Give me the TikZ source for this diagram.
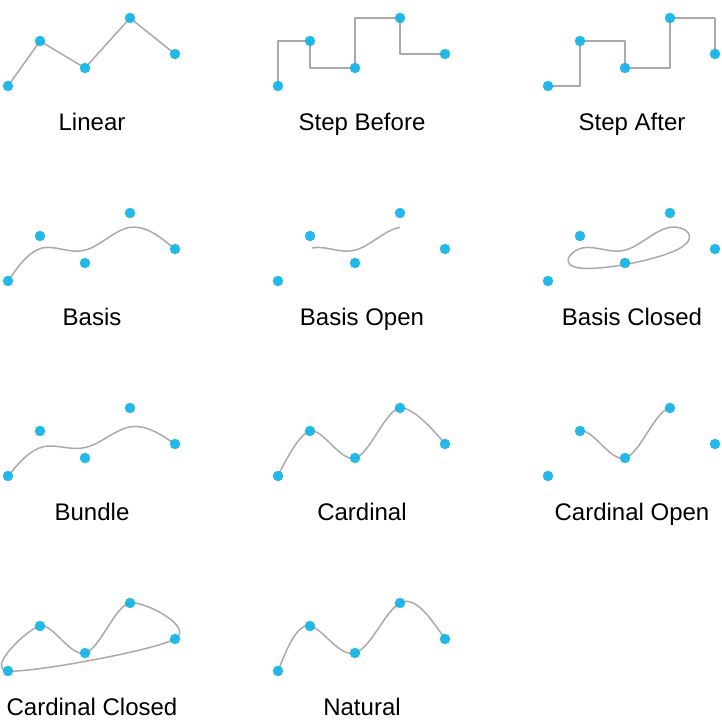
\documentclass[tikz,border=0pt]{standalone}
\usepackage{fontspec}
\setmainfont{Liberation Sans}
\definecolor{dotc}{HTML}{12B4E8}
\definecolor{linec}{HTML}{AAAAAA}
\tikzset{
  curve/.style={draw=linec, line width=1.5pt, line join=round},
  dotn/.style={circle, fill=dotc, fill opacity=0.92, inner sep=0pt, minimum size=10.5pt},
  lbl/.style={anchor=base, font=\fontsize{24}{28}\selectfont, text=black}
}
\newcommand\defpts[1]{\foreach \n/\px/\py in {a/8/86,b/40/41,c/85/68,d/130/18,e/175/54}{\coordinate (#1\n) at (\px,\py);}}
\newcommand\drawpts[1]{\foreach \n in {a,b,c,d,e}{\node[dotn] (#1dot\n) at (#1\n) {};}}
\begin{document}
\begin{tikzpicture}[x=1pt,y=-1pt]
\useasboundingbox[fill=white] (0,0) rectangle (721,728);

% Row 1
\begin{scope}[shift={(0,0)}]
  \defpts{lin}
  \draw[curve] (lina) -- (linb) -- (linc) -- (lind) -- (line);
  \drawpts{lin}
  \node[lbl] (linlbl) at (92,130) {Linear};
\end{scope}
\begin{scope}[shift={(270,0)}]
  \defpts{sb}
  \draw[curve] (sba) |- (sbb) |- (sbc) |- (sbd) |- (sbe);
  \drawpts{sb}
  \node[lbl] (sblbl) at (92,130) {Step Before};
\end{scope}
\begin{scope}[shift={(540,0)}]
  \defpts{sa}
  \draw[curve] (saa) -| (sab) -| (sac) -| (sad) -| (sae);
  \drawpts{sa}
  \node[lbl] (salbl) at (92,130) {Step After};
\end{scope}

% Row 2
\begin{scope}[shift={(0,195)}]
  \defpts{ba}
  \draw[curve] (baa) -- (13.333,78.5) .. controls (18.667,71) and (29.333,56) .. (42.167,53)
    .. controls (55,50) and (70,59) .. (85,55.167)
    .. controls (100,51.333) and (115,34.667) .. (130,32.333)
    .. controls (145,30) and (160,42) .. (167.5,48) -- (bae);
  \drawpts{ba}
  \node[lbl] (balbl) at (92,130) {Basis};
\end{scope}
\begin{scope}[shift={(270,195)}]
  \defpts{bo}
  \draw[curve] (42.167,53) .. controls (55,50) and (70,59) .. (85,55.167)
    .. controls (100,51.333) and (115,34.667) .. (130,32.333);
  \drawpts{bo}
  \node[lbl] (bolbl) at (92,130) {Basis Open};
\end{scope}
\begin{scope}[shift={(540,195)}]
  \defpts{bc}
  \draw[curve] (42.167,53) .. controls (55,50) and (70,59) .. (85,55.167)
    .. controls (100,51.333) and (115,34.667) .. (130,32.333)
    .. controls (145,30) and (160,42) .. (139.667,53.333)
    .. controls (119.333,64.667) and (63.667,75.333) .. (41.167,73.167)
    .. controls (18.667,71) and (29.333,56) .. cycle;
  \drawpts{bc}
  \node[lbl] (bclbl) at (92,130) {Basis Closed};
\end{scope}

% Row 3
\begin{scope}[shift={(0,390)}]
  \defpts{bu}
  \draw[curve] (bua) -- (13.577,79.425) .. controls (19.154,72.85) and (30.308,59.7) .. (43.304,56.75)
    .. controls (56.3,53.8) and (71.138,61.05) .. (85.975,57.392)
    .. controls (100.8125,53.733) and (115.65,39.167) .. (130.4875,36.783)
    .. controls (145.325,34.4) and (160.1625,44.2) .. (167.581,49.1) -- (bue);
  \drawpts{bu}
  \node[lbl] (bulbl) at (92,130) {Bundle};
\end{scope}
\begin{scope}[shift={(270,390)}]
  \defpts{ca}
  \draw[curve] (caa) .. controls (8,86) and (27.167,44) .. (cab)
    .. controls (52.833,38) and (70,71.833) .. (cac)
    .. controls (100,64.167) and (115,20.333) .. (cad)
    .. controls (145,15.667) and (175,54) .. (cae);
  \drawpts{ca}
  \node[lbl] (calbl) at (92,130) {Cardinal};
\end{scope}
\begin{scope}[shift={(540,390)}]
  \defpts{co}
  \draw[curve] (cob) .. controls (52.833,38) and (70,71.833) .. (coc)
    .. controls (100,64.167) and (115,20.333) .. (cod);
  \drawpts{co}
  \node[lbl] (colbl) at (92,130) {Cardinal Open};
\end{scope}

% Row 4
\begin{scope}[shift={(0,585)}]
  \defpts{cc}
  \draw[curve] (ccb) .. controls (52.833,38) and (70,71.833) .. (ccc)
    .. controls (100,64.167) and (115,20.333) .. (ccd)
    .. controls (145,15.667) and (195.333,42.667) .. (cce)
    .. controls (154.667,65.333) and (30.5,88.167) .. (cca)
    .. controls (-14.5,83.833) and (27.167,44) .. cycle;
  \drawpts{cc}
  \node[lbl] (cclbl) at (92,130) {Cardinal Closed};
\end{scope}
\begin{scope}[shift={(270,585)}]
  \defpts{na}
  \draw[curve] (naa) .. controls (17.506,62.226) and (27.012,38.452) .. (nab)
    .. controls (52.988,43.548) and (69.458,72.417) .. (nac)
    .. controls (100.542,63.583) and (115.155,25.881) .. (nad)
    .. controls (144.845,10.119) and (159.923,32.060) .. (nae);
  \drawpts{na}
  \node[lbl] (nalbl) at (92,130) {Natural};
\end{scope}
\end{tikzpicture}
\end{document}
